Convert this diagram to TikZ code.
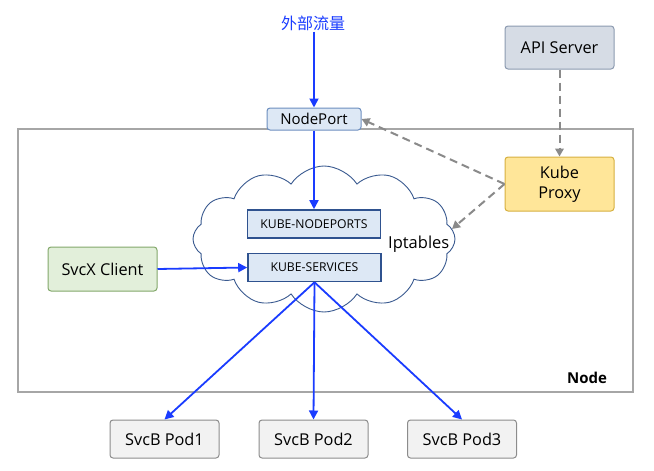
\documentclass[tikz,border=0pt]{standalone}
\usepackage{fontspec}
\setmainfont{Open Sans}
\newfontfamily\cjk{Noto Sans CJK SC}
\usetikzlibrary{shapes.symbols,arrows.meta}
\definecolor{flowblue}{HTML}{1A3CFF}
\definecolor{dashgray}{HTML}{8A8A8A}
\definecolor{npdraw}{HTML}{6C8EBF}
\definecolor{npfill}{HTML}{DDE8F5}
\definecolor{apidraw}{HTML}{8C9AB0}
\definecolor{apifill}{HTML}{D6DCE5}
\definecolor{pxdraw}{HTML}{D6B040}
\definecolor{pxfill}{HTML}{FFE699}
\definecolor{cldraw}{HTML}{82A86A}
\definecolor{clfill}{HTML}{E2EFDA}
\definecolor{poddraw}{HTML}{8C8C8C}
\definecolor{podfill}{HTML}{F2F2F2}
\definecolor{kbdraw}{HTML}{2F528F}
\definecolor{clouddraw}{HTML}{3A5A90}
\definecolor{framegray}{HTML}{A6A6A6}
\tikzset{
  boxbase/.style={rounded corners=3pt,line width=1pt,minimum width=109pt,align=center,font=\fontsize{16.3}{20}\selectfont,inner sep=0pt},
  npbox/.style={boxbase,draw=npdraw,fill=npfill,minimum width=94pt,minimum height=22pt,font=\fontsize{15}{16}\selectfont},
  apibox/.style={boxbase,draw=apidraw,fill=apifill,minimum height=43pt},
  proxybox/.style={boxbase,draw=pxdraw,fill=pxfill,minimum height=54pt},
  clientbox/.style={boxbase,draw=cldraw,fill=clfill,minimum height=44pt},
  podbox/.style={boxbase,draw=poddraw,fill=podfill,minimum height=38pt},
  kubebox/.style={draw=kbdraw,line width=1.6pt,fill=npfill,minimum width=133pt,minimum height=28pt,inner sep=0pt,font=\fontsize{12.2}{14}\selectfont},
  flow/.style={draw=flowblue,line width=1.8pt,-{Triangle[length=9pt,width=9pt]}},
  ctrl/.style={draw=dashgray,line width=2pt,dash pattern=on 8pt off 5pt,-{Triangle[length=8pt,width=8.5pt]}},
}
\begin{document}
\begin{tikzpicture}[x=1pt,y=-1pt]
\useasboundingbox (0,0) rectangle (654,471);
% Node frame
\node[draw=framegray,line width=1.8pt,minimum width=615pt,minimum height=263pt,inner sep=0pt] (frame) at (325.5,260.5) {};
\node[font=\bfseries\fontsize{15}{18}\selectfont,anchor=base] (nodelbl) at (587,383) {Node};
% cloud
\node[cloud,cloud puffs=12,cloud puff arc=115,aspect=1.95,draw=clouddraw,line width=0.9pt,fill=white,minimum width=262pt,minimum height=146pt,inner sep=0pt] (cloud) at (324,239) {};
\node[font=\fontsize{16.5}{18}\selectfont,anchor=base west,inner sep=0pt] (ipt) at (388,248) {Iptables};
% boxes
\node[text=flowblue,font=\cjk\fontsize{16}{18}\selectfont,inner sep=1pt] (ext) at (313,23) {外部流量};
\node[npbox] (np) at (314,119) {NodePort};
\node[apibox] (api) at (559.5,47.5) {API Server};
\node[proxybox] (proxy) at (559.5,184) {Kube\\Proxy};
\node[kubebox] (knp) at (314,224) {KUBE-NODEPORTS};
\node[kubebox] (ksvc) at (314.5,267.5) {KUBE-SERVICES};
\node[clientbox] (client) at (102.5,269) {SvcX Client};
\node[podbox] (pod1) at (164.5,439) {SvcB Pod1};
\node[podbox] (pod2) at (313.5,439) {SvcB Pod2};
\node[podbox] (pod3) at (462,439) {SvcB Pod3};
\coordinate (iptend) at (452,229);
% connectors
\draw[flow] (ext.south -| np.north) -- (np.north);
\draw[flow] (np.south) -- (knp.north -| np.south);
\draw[flow] (client.east) -- (ksvc.west);
\draw[flow] (ksvc.south) -- (pod1.north);
\draw[flow] (ksvc.south) -- (pod2.north);
\draw[flow] (ksvc.south) -- (pod3.north);
\draw[ctrl] (api.south) -- (proxy.north);
\draw[ctrl] (proxy.west) -- (np.east);
\draw[ctrl] (proxy.west) -- (iptend);
\end{tikzpicture}
\end{document}
